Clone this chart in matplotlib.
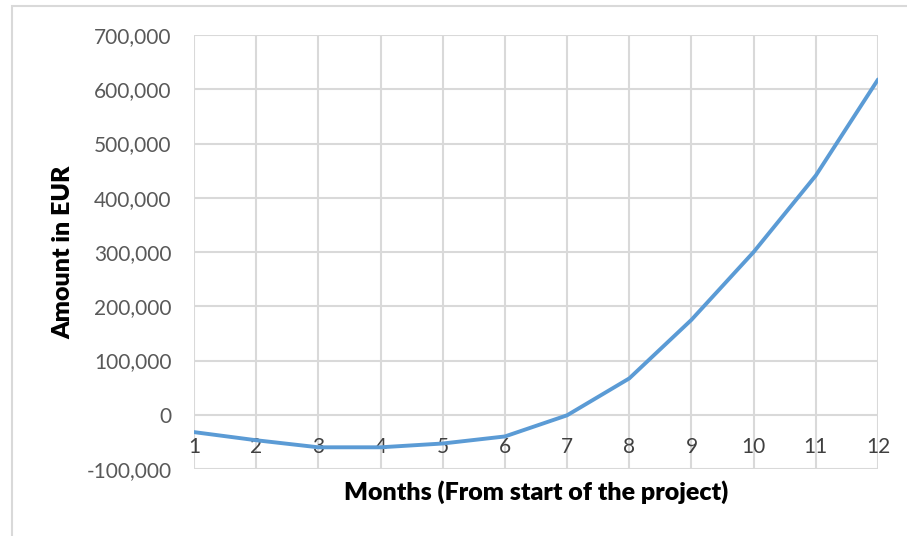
import matplotlib.pyplot as plt
from matplotlib.patches import Rectangle
from matplotlib.ticker import FuncFormatter

months = [1, 2, 3, 4, 5, 6, 7, 8, 9, 10, 11, 12]
amounts = [-32000, -47000, -60000, -60000, -53000, -40000, -1000,
           67000, 175000, 300000, 441000, 618000]
y_ticks = [-100000, 0, 100000, 200000, 300000, 400000, 500000, 600000, 700000]

plt.rcParams['font.family'] = ['Lato', 'DejaVu Sans']

fig = plt.figure(figsize=(9.07, 5.36), dpi=100)
W, H = 907, 536

# Outer chart border, as in the spreadsheet export.
fig.patches.append(Rectangle((12 / W, -0.1), 1.2, (536 - 6) / H + 0.1,
                             transform=fig.transFigure, fill=False,
                             edgecolor="#d9d9d9", linewidth=1.5))

ax = fig.add_axes([194 / W, (536 - 469) / H, (878 - 194) / W, (469 - 35) / H])
ax.plot(months, amounts, color="#5B9BD5", linewidth=2.8, solid_capstyle="round",
        zorder=3)

ax.set_xlim(1, 12)
ax.set_ylim(-100000, 700000)
ax.set_xticks(months)
ax.set_yticks(y_ticks)
ax.yaxis.set_major_formatter(FuncFormatter(lambda v, p: f"{int(v):,}"))

ax.grid(True, color="#d9d9d9", linewidth=1.5)
ax.set_axisbelow(True)
for side in ["top", "right", "left", "bottom"]:
    ax.spines[side].set_visible(False)
ax.spines["bottom"].set_position(("data", 0))

ax.tick_params(axis="both", length=0)
ax.tick_params(axis="y", labelsize=15, labelcolor="#595959", pad=16)
ax.tick_params(axis="x", labelsize=15, labelcolor="#404040", pad=16)

fig.text(63 / W, 1 - 252 / H, "Amount in EUR", rotation=90, fontsize=18,
         fontweight="heavy", ha="center", va="center")
fig.text(536 / W, 1 - 492 / H, "Months (From start of the project)",
         fontsize=18, fontweight="heavy", ha="center", va="center")

fig.savefig("out.png", dpi=100)
